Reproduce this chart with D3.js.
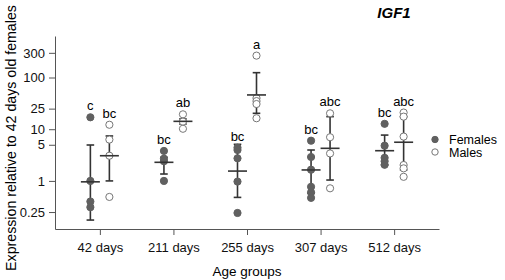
<!DOCTYPE html>
<html lang="en">
<head>
<meta charset="UTF-8">
<title>IGF1</title>
<script src="https://d3js.org/d3.v7.min.js"></script>
<style>
  body { margin: 0; background: #fff; }
  svg { font-family: "Liberation Sans", Arial, sans-serif; }
  .axis path, .axis line { stroke: #555; }
  .axis text { font-size: 13px; fill: #111; }
</style>
</head>
<body>
<svg width="505" height="280"></svg>
<script>
const groups = ['42 days', '211 days', '255 days', '307 days', '512 days'];
const yTicks = [0.25, 1, 5, 10, 25, 100, 300];

const femalePts = [[17, 1.0, 0.40, 0.31], [3.8, 2.7, 2.4, 1.0], [4.4, 3.96, 2.74, 0.97, 0.24],
                   [6.0, 2.9, 1.65, 0.77, 0.6, 0.47], [12.7, 4.8, 2.8, 2.4, 2.05]];
const femaleMean = [0.96, 2.29, 1.55, 1.63, 3.84];
const femaleLo = [0.175, 1.36, 0.48, 0.58, 2.03];
const femaleHi = [4.95, 2.86, 5.1, 3.96, 7.7];
const femaleLetters = ['c', 'bc', 'bc', 'bc', 'bc'];

const malePts = [[12.2, 6.3, 3.07, 0.49], [19.4, 14, 10.2], [265, 40, 35, 30.7, 16.3],
                 [20.3, 7.0, 3.4, 0.72], [21, 17.5, 7.2, 2.03, 1.75, 1.2]];
const maleMean = [3.07, 14.2, 46, 4.27, 5.6];
const maleLo = [1.0, 12.6, 20.3, 1.04, 1.63];
const maleHi = [7.4, 15.8, 124, 17.5, 17.5];
const maleLetters = ['bc', 'ab', 'a', 'abc', 'abc'];

const svg = d3.select('svg');

const x = d3.scalePoint().domain(groups).range([55, 439]).padding(0.61);
const y = d3.scaleLog().domain([0.1175, 635]).range([229, 36]);

svg.append('g')
    .attr('class', 'axis')
    .attr('transform', 'translate(55,0)')
    .call(d3.axisLeft(y).tickValues(yTicks).tickFormat(d => String(d)).tickSize(6).tickSizeOuter(0))
    .call(g => g.selectAll('text').attr('dx', '-1'));

svg.append('g')
    .attr('class', 'axis')
    .attr('transform', 'translate(0,229)')
    .call(d3.axisBottom(x).tickSize(6).tickSizeOuter(0))
    .call(g => g.selectAll('text').attr('dy', '1.05em'));

svg.append('text')
    .attr('transform', 'translate(16,138) rotate(-90)')
    .attr('text-anchor', 'middle')
    .style('font-size', '14.2px')
    .text('Expression relative to 42 days old females');

svg.append('text')
    .attr('x', 247).attr('y', 276)
    .attr('text-anchor', 'middle')
    .style('font-size', '13.5px')
    .text('Age groups');

svg.append('text')
    .attr('x', 394).attr('y', 18)
    .attr('text-anchor', 'middle')
    .style('font-size', '15px')
    .style('font-weight', 'bold')
    .style('font-style', 'italic')
    .text('IGF1');

function drawSeries(pts, mean, lo, hi, letters, dx, fill, stroke) {
    groups.forEach((gName, i) => {
        const cx = x(gName) + dx;
        const g = svg.append('g');
        g.append('line')
            .attr('x1', cx).attr('x2', cx)
            .attr('y1', y(hi[i])).attr('y2', y(lo[i]))
            .style('stroke', '#333').style('stroke-width', 1.6);
        [hi[i], lo[i]].forEach(v => {
            g.append('line')
                .attr('x1', cx - 3.8).attr('x2', cx + 3.8)
                .attr('y1', y(v)).attr('y2', y(v))
                .style('stroke', '#333').style('stroke-width', 1.6);
        });
        g.selectAll('circle')
            .data(pts[i])
            .enter()
            .append('circle')
            .attr('cx', cx)
            .attr('cy', d => y(d))
            .attr('r', 3.6)
            .style('fill', fill)
            .style('stroke', stroke)
            .style('stroke-width', 1);
        g.append('line')
            .attr('x1', cx - 9.5).attr('x2', cx + 9.5)
            .attr('y1', y(mean[i])).attr('y2', y(mean[i]))
            .style('stroke', '#333').style('stroke-width', 1.6);
        g.append('text')
            .attr('x', cx)
            .attr('y', y(d3.max(pts[i])) - 7)
            .attr('text-anchor', 'middle')
            .style('font-size', '13px')
            .text(letters[i]);
    });
}

drawSeries(femalePts, femaleMean, femaleLo, femaleHi, femaleLetters, -9.5, '#606060', '#606060');
drawSeries(malePts, maleMean, maleLo, maleHi, maleLetters, 9.5, '#fff', '#777');

const legend = svg.append('g');
[['Females', '#606060', '#606060'], ['Males', '#fff', '#777']].forEach((d, i) => {
    legend.append('circle')
        .attr('cx', 435).attr('cy', 139.5 + i * 12.5)
        .attr('r', 3.2)
        .style('fill', d[1]).style('stroke', d[2]);
    legend.append('text')
        .attr('x', 449).attr('y', 139.5 + i * 12.5 + 4.5)
        .style('font-size', '12.5px')
        .text(d[0]);
});
</script>
</body>
</html>
